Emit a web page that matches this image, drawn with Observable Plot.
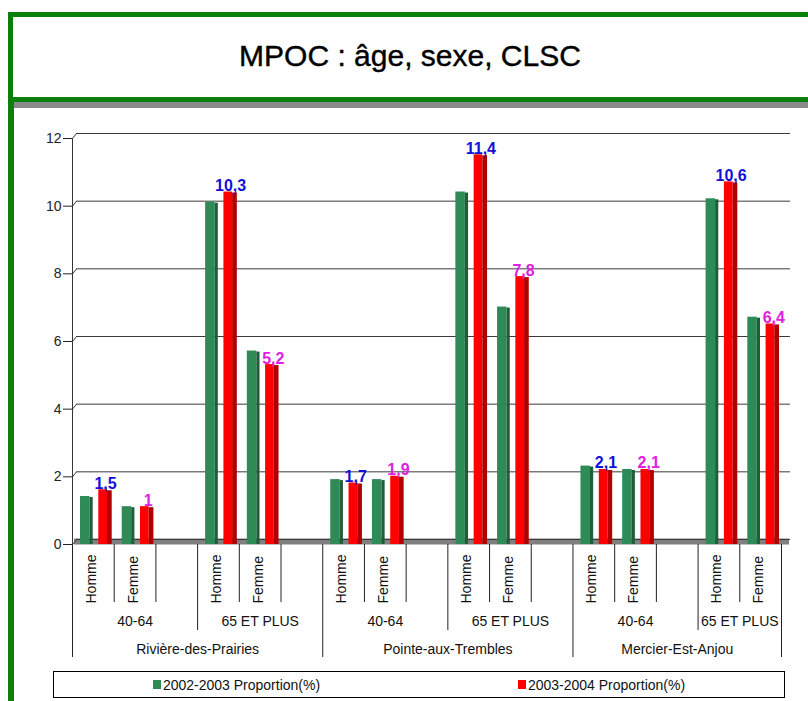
<!DOCTYPE html>
<html>
<head>
<meta charset="utf-8">
<script src="https://cdn.jsdelivr.net/npm/d3@7"></script>
<script src="https://cdn.jsdelivr.net/npm/@observablehq/plot@0.6"></script>
<style>
  html, body { margin: 0; padding: 0; background: #fff; }
  body { font-family: "Liberation Sans", Arial, sans-serif; }
  #wrap { position: relative; width: 808px; height: 701px; overflow: hidden; background: #fff; }
  #chart { position: absolute; left: 0; top: 0; }
  #titlebox { position: absolute; left: 8px; top: 12px; width: 830px; height: 80px;
    border: 5px solid #0a800a; background: #fff; box-shadow: 6px 6px 0 #8a8a8a; }
  #title { position: absolute; left: 0; top: 38px; width: 820px; text-align: center;
    font-size: 30px; line-height: 36px; color: #000; -webkit-text-stroke: 0.4px #000; }
  #leftline { position: absolute; left: 8px; top: 100px; width: 6px; height: 610px; background: #0a800a; }
  #legend { position: absolute; left: 53px; top: 671px; width: 730px; height: 25px;
    border: 1px solid #000; background: #fff; display: flex; justify-content: space-around; align-items: center;
    font-size: 14px; color: #111; }
  .item { display: flex; align-items: center; }
  .sw { width: 8px; height: 9px; margin-right: 2px; }
</style>
</head>
<body>
<div id="wrap">
  <div id="chart"></div>
  <div id="titlebox"></div>
  <div id="title"></div>
  <div id="leftline"></div>
  <div id="legend"></div>
</div>
<script>
// ---- Data ----
const titleText = "MPOC : âge, sexe, CLSC";
const clscNames = ["Rivière-des-Prairies", "Pointe-aux-Trembles", "Mercier-Est-Anjou"];
const ageGroups = ["40-64", "65 ET PLUS"];
const sexes = ["Homme", "Femme"];
const seriesNames = ["2002-2003 Proportion(%)", "2003-2004 Proportion(%)"];
const seriesColors = ["#2e8b57", "#ff0000"];
// order: CLSC > age group > sex
const prop2002 = [1.3, 1.0, 10.0, 5.6, 1.8, 1.8, 10.3, 6.9, 2.2, 2.1, 10.1, 6.6];
const prop2003 = [1.5, 1.0, 10.3, 5.2, 1.7, 1.9, 11.4, 7.8, 2.1, 2.1, 10.6, 6.4];
const yTicks = [0, 2, 4, 6, 8, 10, 12];

// ---- Build category slots ----
const rows = [];
const groups = [];
const clscSpans = [];
let slot = 0;
clscNames.forEach((c, ci) => {
  const cStart = slot;
  ageGroups.forEach((a, ai) => {
    const aStart = slot;
    sexes.forEach((s) => {
      const k = rows.length;
      rows.push({clsc: c, age: a, sex: s, slot, v2002: prop2002[k], v2003: prop2003[k]});
      slot++;
    });
    const isLast = ci === clscNames.length - 1 && ai === ageGroups.length - 1;
    if (!isLast) slot++; // empty spacer slot
    groups.push({label: a, start: aStart, end: slot});
  });
  clscSpans.push({label: c, start: cStart, end: slot});
});
const nSlots = slot;

const longLines = [0, ...clscSpans.map(d => d.end)];
const midLines = groups.map(d => d.end).filter(e => !longLines.includes(e));
const shortLines = rows.map(d => d.slot + 1).filter(e => !longLines.includes(e) && !midLines.includes(e));

// ---- Layout ----
const W = 808, H = 701, mL = 72, mR = 27, mT = 138, mB = 157;
const bw = (W - mL - mR) / nSlots;          // slot width in px
const plotH = H - mT - mB;
const yDepth = px => -px * 12 / plotH;       // pixel depth below baseline -> y units
const xPx = px => px * nSlots / (W - mL - mR);
const yPx = px => px * 12 / plotH;
const fmt = v => String(v).replace(".", ",");
const cap = -4; // 3D top cap (px)

const chart = Plot.plot({
  width: W, height: H,
  marginLeft: mL, marginRight: mR, marginTop: mT, marginBottom: mB,
  x: {domain: [0, nSlots], axis: null},
  y: {domain: [0, 12], axis: null},
  style: {background: "transparent", fontFamily: "'Liberation Sans', Arial, sans-serif", overflow: "visible"},
  marks: [
    // floor
    Plot.ruleY([0], {stroke: "#808080", strokeWidth: 6, dy: -3, dx: 2, insetRight: -6}),
    // grid (back wall)
    Plot.ruleY(yTicks, {stroke: "#3a3a3a", strokeWidth: 1, dx: 4, dy: -5, insetRight: -5}),
    Plot.link(yTicks, {x1: 0, x2: xPx(4), y1: d => d, y2: d => d + yPx(5), stroke: "#3a3a3a"}),
    // y axis
    Plot.ruleX([0], {y1: 0, y2: 12, stroke: "#333"}),
    Plot.axisY({ticks: yTicks, tickSize: 9, tickPadding: 2, fontSize: 14, color: "#222", tickFormat: d => String(d)}),
    // bars 2002-2003
    Plot.rectY(rows, {x1: "slot", x2: d => d.slot + 1, y1: 0, y2: "v2002", fill: seriesColors[0], insetLeft: 8, insetRight: bw - 17.5, insetTop: cap}),
    Plot.rectY(rows, {x1: "slot", x2: d => d.slot + 1, y1: 0, y2: "v2002", fill: "#1e5e3b", insetLeft: 17.5, insetRight: bw - 20.7, insetTop: cap + 1}),
    // bars 2003-2004
    Plot.rectY(rows, {x1: "slot", x2: d => d.slot + 1, y1: 0, y2: "v2003", fill: seriesColors[1], insetLeft: 26.3, insetRight: bw - 35, insetTop: cap}),
    Plot.rectY(rows, {x1: "slot", x2: d => d.slot + 1, y1: 0, y2: "v2003", fill: "#b00000", insetLeft: 35, insetRight: bw - 39.7, insetTop: cap + 1}),
    // value labels (2003-2004)
    Plot.text(rows, {filter: d => d.sex === "Homme", x: "slot", y: "v2003", text: d => fmt(d.v2003), dx: 33, dy: -5,
      lineAnchor: "bottom", fill: "#1010d8", fontWeight: "bold", fontSize: 16}),
    Plot.text(rows, {filter: d => d.sex === "Femme", x: "slot", y: "v2003", text: d => fmt(d.v2003), dx: 34, dy: -5,
      lineAnchor: "bottom", fill: "#e020e0", fontWeight: "bold", fontSize: 16}),
    // hierarchical x axis
    Plot.ruleX(shortLines, {y1: 0, y2: yDepth(58), stroke: "#222"}),
    Plot.ruleX(midLines, {y1: 0, y2: yDepth(86), stroke: "#222"}),
    Plot.ruleX(longLines, {y1: 0, y2: yDepth(113), stroke: "#222"}),
    Plot.text(rows, {x: d => d.slot + 0.5, y: 0, dy: 59, dx: -2, text: "sex", rotate: -90, textAnchor: "start",
      fontSize: 14, fill: "#111"}),
    Plot.text(groups, {x: d => (d.start + d.end) / 2, y: 0, dy: 77, text: "label", fontSize: 14, fill: "#111"}),
    Plot.text(clscSpans, {x: d => (d.start + d.end) / 2, y: 0, dy: 105, text: "label", fontSize: 14, fill: "#111"})
  ]
});
document.getElementById("chart").appendChild(chart);

// title
document.getElementById("title").textContent = titleText;

// legend
const legend = document.getElementById("legend");
seriesNames.forEach((name, i) => {
  const item = document.createElement("div");
  item.className = "item";
  const sw = document.createElement("span");
  sw.className = "sw";
  sw.style.background = seriesColors[i];
  const lab = document.createElement("span");
  lab.textContent = name;
  item.appendChild(sw);
  item.appendChild(lab);
  legend.appendChild(item);
});
</script>
</body>
</html>
